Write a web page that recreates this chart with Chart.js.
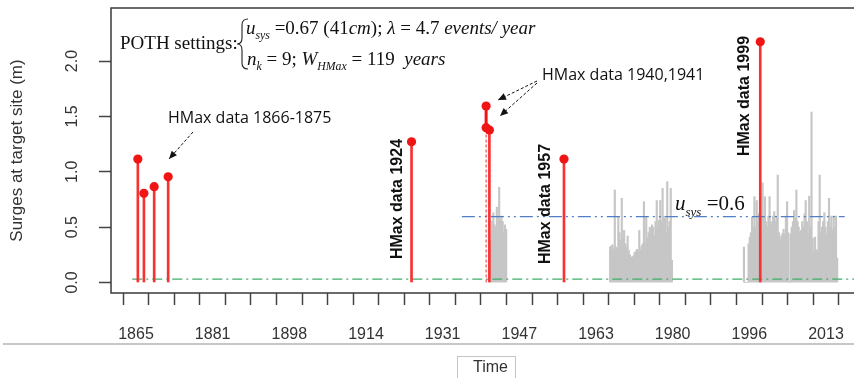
<!DOCTYPE html>
<html>
<head>
<meta charset="utf-8">
<script src="https://cdn.jsdelivr.net/npm/chart.js@4.4.1/dist/chart.umd.min.js"></script>
<style>
  html, body { margin: 0; padding: 0; overflow: hidden; background: #fff; }
  #wrap { position: relative; width: 880px; height: 378px; }
</style>
</head>
<body>
<div id="wrap"><canvas id="surgeChart"></canvas></div>
<script>
// HMax (historical maxima) - year, surge (m)
const hmaxYears = [1865.4, 1866.7, 1868.9, 1871.9, 1924.1, 1940.1, 1940.8, 1956.8, 1998.9];
const hmaxValues = [1.115, 0.805, 0.865, 0.955, 1.271, 1.594, 1.377, 1.115, 2.174];
const hmax1940Low = 1.398; // second 1940 estimate (dashed stem)

// systematic POT data, one value every quarter year from the start year
const sysStartYears = [1940.9, 1966.7, 1995.4];
const sysStep = 0.25;
const sys1941 = [0.34, 0.38, 0.55, 0.63, 0.52, 0.5, 0.68, 0.55, 0.86, 0.56, 0.6, 0.55, 0.46, 0.52, 0.48];
const sys1967 = [0.32, 0.33, 0.34, 0.3, 0.835, 0.32, 0.3, 0.59, 0.45, 0.38, 0.76, 0.4, 0.47, 0.35,
  0.32, 0.42, 0.29, 0.25, 0.23, 0.23, 0.24, 0.27, 0.28, 0.3, 0.28, 0.47, 0.3, 0.33, 0.35, 0.73,
  0.36, 0.59, 0.4, 0.45, 0.5, 0.48, 0.52, 0.5, 0.42, 0.55, 0.74, 0.5, 0.56, 0.74, 0.55, 0.85,
  0.6, 0.58, 0.45, 0.91, 0.5, 0.55, 0.85, 0.2];
const sys1995 = [0.32, 0, 0, 0, 0.35, 0.41, 0.45, 0.59, 0.5, 0.775, 0.5, 0.74, 0.55, 0.62, 0.55,
  0.6, 0.9, 0.58, 0.775, 0.55, 0.5, 0.6, 0.775, 0.55, 0.52, 0.6, 0.64, 0.55, 0.6, 0.97, 0.45,
  0.38, 0.42, 0.44, 0.48, 0.44, 0.6, 0.73, 0.45, 0, 0.44, 0.5, 0.55, 0.65, 0.58, 0.835, 0.55,
  0.5, 0.45, 0.47, 0.55, 0.5, 0.62, 0.74, 0.55, 0.44, 0.78, 0.5, 1.54, 0.4, 0.27, 0.41, 0.3,
  0.28, 0.55, 0.97, 0.45, 0.5, 0.55, 0.63, 0.5, 0.44, 0.55, 0.76, 0.5, 0.6, 0.48, 0.6, 0.5,
  0.6, 0.22];

// thresholds
const uSys = 0.594;
const uSysYears = [1934.9, 2017];
const lowLine = 0.03;
const lowLineYears = [1864.2, 2022.4];

// axes
const xTickLabels = ['1865', '1881', '1898', '1914', '1931', '1947', '1963', '1980', '1996', '2013'];
const yTickValues = [0, 0.5, 1, 1.5, 2];

const tickStep = (2013 - 1865) / 27;
const xTickValues = Array.from({ length: 29 }, (_, k) => 1865 + k * tickStep);

const sysPoints = [sys1941, sys1967, sys1995].flatMap((vals, c) =>
  vals.map((v, i) => ({ x: sysStartYears[c] + i * sysStep, y: v })));

const solidIdx = [0, 1, 2, 3, 4, 6, 7, 8];
const stemPoints = solidIdx.map(i => ({ x: hmaxYears[i], y: hmaxValues[i] }));
const dotPoints = hmaxYears.map((x, i) => ({ x, y: hmaxValues[i] }))
  .concat([{ x: hmaxYears[5], y: hmax1940Low }]);

const SANS = '"Liberation Sans", Arial, sans-serif';
const SERIF = '"Liberation Serif", "Times New Roman", serif';
const LABEL = '"Open Sans", "Liberation Sans", sans-serif';

function arrow(ctx, x1, y1, x2, y2) {
  ctx.save();
  ctx.strokeStyle = '#111';
  ctx.fillStyle = '#111';
  ctx.lineWidth = 1;
  ctx.setLineDash([3, 2]);
  ctx.beginPath();
  ctx.moveTo(x1, y1);
  ctx.lineTo(x2, y2);
  ctx.stroke();
  ctx.setLineDash([]);
  const a = Math.atan2(y2 - y1, x2 - x1);
  ctx.beginPath();
  ctx.moveTo(x2, y2);
  ctx.lineTo(x2 - 8 * Math.cos(a) + 3.5 * Math.sin(a), y2 - 8 * Math.sin(a) - 3.5 * Math.cos(a));
  ctx.lineTo(x2 - 8 * Math.cos(a) - 3.5 * Math.sin(a), y2 - 8 * Math.sin(a) + 3.5 * Math.cos(a));
  ctx.closePath();
  ctx.fill();
  ctx.restore();
}

function runs(ctx, x, y, parts, size) {
  parts.forEach(([t, st]) => {
    let f = size, dy = 0, style = '';
    if (st === 'i') style = 'italic ';
    if (st === 's') { style = 'italic '; f = size * 0.62; dy = size * 0.28; }
    ctx.font = `${style}${f}px ${SERIF}`;
    ctx.fillText(t, x, y + dy);
    x += ctx.measureText(t).width;
  });
}

function vtext(ctx, t, x, y) {
  ctx.save();
  ctx.translate(x, y);
  ctx.rotate(-Math.PI / 2);
  ctx.textAlign = 'center';
  ctx.textBaseline = 'middle';
  ctx.fillText(t, 0, 0);
  ctx.restore();
}

const annotations = {
  id: 'annotations',
  afterDatasetsDraw(chart) {
    const { ctx, chartArea: a } = chart;
    ctx.save();
    // plot box
    ctx.strokeStyle = '#3a3a3a';
    ctx.lineWidth = 1.5;
    ctx.strokeRect(a.left, a.top, a.right - a.left, a.bottom - a.top);

    // separator + "Time" box below the axis
    ctx.strokeStyle = '#b4b4b4';
    ctx.lineWidth = 1.5;
    ctx.beginPath();
    ctx.moveTo(3, 344); ctx.lineTo(854, 344);
    ctx.stroke();
    ctx.lineWidth = 1;
    ctx.strokeStyle = '#c4c4c4';
    ctx.strokeRect(457.5, 356.5, 58, 26);

    ctx.fillStyle = '#111';
    ctx.textBaseline = 'alphabetic';
    // POTH settings block
    ctx.font = `19px ${SERIF}`;
    ctx.fillText('POTH settings:', 120, 49);
    ctx.strokeStyle = '#222';
    ctx.lineWidth = 1.1;
    ctx.beginPath();
    ctx.moveTo(248, 19);
    ctx.quadraticCurveTo(242, 19, 242, 25);
    ctx.lineTo(242, 38);
    ctx.quadraticCurveTo(242, 44, 237, 44);
    ctx.quadraticCurveTo(242, 44, 242, 50);
    ctx.lineTo(242, 63);
    ctx.quadraticCurveTo(242, 69, 248, 69);
    ctx.stroke();
    runs(ctx, 246, 34, [['u', 'i'], ['sys', 's'], [' =0.67 (41', 'n'], ['cm', 'i'], ['); ', 'n'],
      ['\u03bb', 'i'], [' = 4.7 ', 'n'], ['events/ year', 'i']], 19);
    runs(ctx, 247, 65, [['n', 'i'], ['k', 's'], [' = 9; ', 'n'], ['W', 'i'], ['HMax', 's'],
      [' = 119  ', 'n'], ['years', 'i']], 19);

    // u_sys label on the threshold
    runs(ctx, 675, 210, [['u', 'i'], ['sys', 's'], [' =0.6', 'n']], 21);

    // HMax labels
    ctx.font = `16px ${LABEL}`;
    ctx.textBaseline = 'middle';
    ctx.fillText('HMax data 1866-1875', 168, 118);
    ctx.fillText('HMax data 1940,1941', 542, 75);
    ctx.font = `bold 16px ${SANS}`;
    vtext(ctx, 'HMax data 1924', 398, 199);
    vtext(ctx, 'HMax data 1957', 546, 204);
    vtext(ctx, 'HMax data 1999', 745, 96);

    arrow(ctx, 193, 132, 169, 159);
    arrow(ctx, 537, 81, 498, 100);
    arrow(ctx, 537, 83, 500, 116);
    ctx.restore();
  }
};

new Chart(document.getElementById('surgeChart'), {
  type: 'bar',
  data: {
    datasets: [
      {
        type: 'scatter',
        data: dotPoints,
        pointRadius: 4.6,
        pointBackgroundColor: '#f01414',
        pointBorderWidth: 0,
        order: 1
      },
      {
        type: 'line',
        data: [{ x: hmaxYears[5], y: hmax1940Low }, { x: hmaxYears[5], y: hmaxValues[5] }],
        borderColor: '#f01414',
        borderWidth: 3,
        pointRadius: 0,
        order: 2
      },
      {
        type: 'line',
        data: [{ x: hmaxYears[5], y: 0 }, { x: hmaxYears[5], y: hmax1940Low }],
        borderColor: '#f22a2a',
        borderWidth: 1,
        borderDash: [3, 2],
        pointRadius: 0,
        order: 2
      },
      {
        type: 'bar',
        data: stemPoints,
        backgroundColor: '#f73232',
        barThickness: 2,
        grouped: false,
        order: 3
      },
      {
        type: 'line',
        data: uSysYears.map(x => ({ x, y: uSys })),
        borderColor: '#4f7fc4',
        borderWidth: 1.3,
        borderDash: [13, 4, 2, 4, 2, 4],
        pointRadius: 0,
        order: 4
      },
      {
        type: 'line',
        data: lowLineYears.map(x => ({ x, y: lowLine })),
        borderColor: '#3fae6a',
        borderWidth: 1.2,
        borderDash: [10, 4, 2, 4],
        pointRadius: 0,
        order: 4
      },
      {
        type: 'bar',
        data: sysPoints,
        backgroundColor: '#c6c6c6',
        barThickness: 1.5,
        grouped: false,
        order: 5
      }
    ]
  },
  options: {
    responsive: true,
    maintainAspectRatio: false,
    animation: false,
    layout: { padding: { left: 0, right: 10, top: 8, bottom: 0 } },
    plugins: {
      legend: { display: false },
      tooltip: { enabled: false }
    },
    scales: {
      x: {
        type: 'linear',
        min: 1859.64,
        max: 2022.44,
        offset: false,
        afterBuildTicks: s => { s.ticks = xTickValues.map(v => ({ value: v })); },
        afterFit: s => { s.height = 85; s.paddingLeft = 0; s.paddingRight = 0; },
        ticks: {
          autoSkip: false,
          maxRotation: 0,
          minRotation: 0,
          padding: 20,
          color: '#333',
          font: { family: SANS, size: 16 },
          callback: (v, i) => (i % 3 === 0 ? xTickLabels[i / 3] : '')
        },
        grid: { drawOnChartArea: false, tickLength: 12, tickWidth: 1.5, tickColor: '#444' },
        border: { display: false },
        title: {
          display: true,
          text: 'Time',
          color: '#333',
          font: { family: SANS, size: 16 },
          padding: { top: 0, bottom: 1 }
        }
      },
      y: {
        type: 'linear',
        min: -0.095,
        max: 2.479,
        afterBuildTicks: s => { s.ticks = yTickValues.map(v => ({ value: v })); },
        afterFit: s => { s.width = 111; s.paddingTop = 0; s.paddingBottom = 0; },
        ticks: {
          minRotation: 90,
          maxRotation: 90,
          crossAlign: 'center',
          padding: 15,
          color: '#333',
          font: { family: SANS, size: 16 },
          callback: v => v.toFixed(1)
        },
        grid: { drawOnChartArea: false, tickLength: 12, tickWidth: 1.5, tickColor: '#444' },
        border: { display: false },
        title: {
          display: true,
          text: 'Surges at target site (m)',
          color: '#333',
          font: { family: SANS, size: 17 },
          padding: { top: 7, bottom: 0 }
        }
      }
    }
  },
  plugins: [annotations]
});
</script>
</body>
</html>
